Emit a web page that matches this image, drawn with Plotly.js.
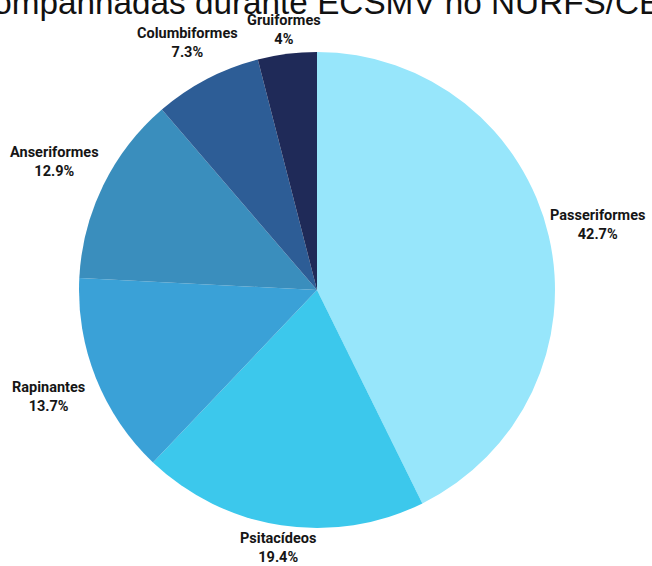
<!DOCTYPE html>
<html>
<head>
<meta charset="utf-8">
<script src="https://cdn.plot.ly/plotly-3.0.1.min.js"></script>
<style>html,body{margin:0;padding:0;background:#fff;}#chart{width:652px;height:566px;}</style>
</head>
<body>
<div id="chart"></div>
<script>
const categories = ["Passeriformes", "Psitacídeos", "Rapinantes", "Anseriformes", "Columbiformes", "Gruiformes"];
const values = [42.7, 19.4, 13.7, 12.9, 7.3, 4];
const sliceColors = ["#97E6FB", "#3CC8EC", "#3AA1D7", "#3A8EBD", "#2D5D96", "#1F2A58"];
const titleText = "acompanhadas durante ECSMV no NURFS/CE";

// layout tuning (pixels): pie geometry and distance of each label centre from pie centre
const W = 652, H = 566;
const cx = 317, cy = 290, r = 238;
const labelDist = [288, 261, 289, 292, 279, 262];

const total = values.reduce((a, b) => a + b, 0);
function fmtPct(v) {
  const p = Math.round(v / total * 1000) / 10;
  return (Number.isInteger(p) ? p.toFixed(0) : p.toFixed(1)) + "%";
}

const trace = {
  type: "pie",
  labels: categories,
  values: values,
  sort: false,
  direction: "clockwise",
  rotation: 0,
  marker: { colors: sliceColors, line: { width: 0 } },
  textinfo: "none",
  automargin: false,
  domain: { x: [(cx - r) / W, (cx + r) / W], y: [(H - cy - r) / H, (H - cy + r) / H] },
  hoverinfo: "label+percent",
  showlegend: false
};

const annotations = [];
let cum = 0;
values.forEach((v, i) => {
  const mid = (cum + v / 2) / total * 2 * Math.PI;
  cum += v;
  const px = cx + labelDist[i] * Math.sin(mid);
  const py = cy - labelDist[i] * Math.cos(mid);
  annotations.push({
    text: categories[i] + "<br>" + fmtPct(v),
    xref: "paper", yref: "paper",
    x: px / W, y: 1 - py / H,
    xanchor: "center", yanchor: "middle",
    showarrow: false,
    align: "center",
    font: { family: "Roboto, sans-serif", size: 14.5, color: "#151515", weight: "bold" }
  });
});

annotations.push({
  text: titleText,
  xref: "paper", yref: "paper",
  x: 309.5 / W, y: 1,
  xanchor: "center", yanchor: "middle",
  yshift: -2,
  showarrow: false,
  font: { family: "Liberation Sans, Arial, sans-serif", size: 33.3, color: "#111111" }
});

const layout = {
  width: W,
  height: H,
  margin: { l: 0, r: 0, t: 0, b: 0 },
  paper_bgcolor: "#ffffff",
  plot_bgcolor: "#ffffff",
  showlegend: false,
  annotations: annotations
};

Plotly.newPlot("chart", [trace], layout, { displayModeBar: false, staticPlot: true });
</script>
</body>
</html>
